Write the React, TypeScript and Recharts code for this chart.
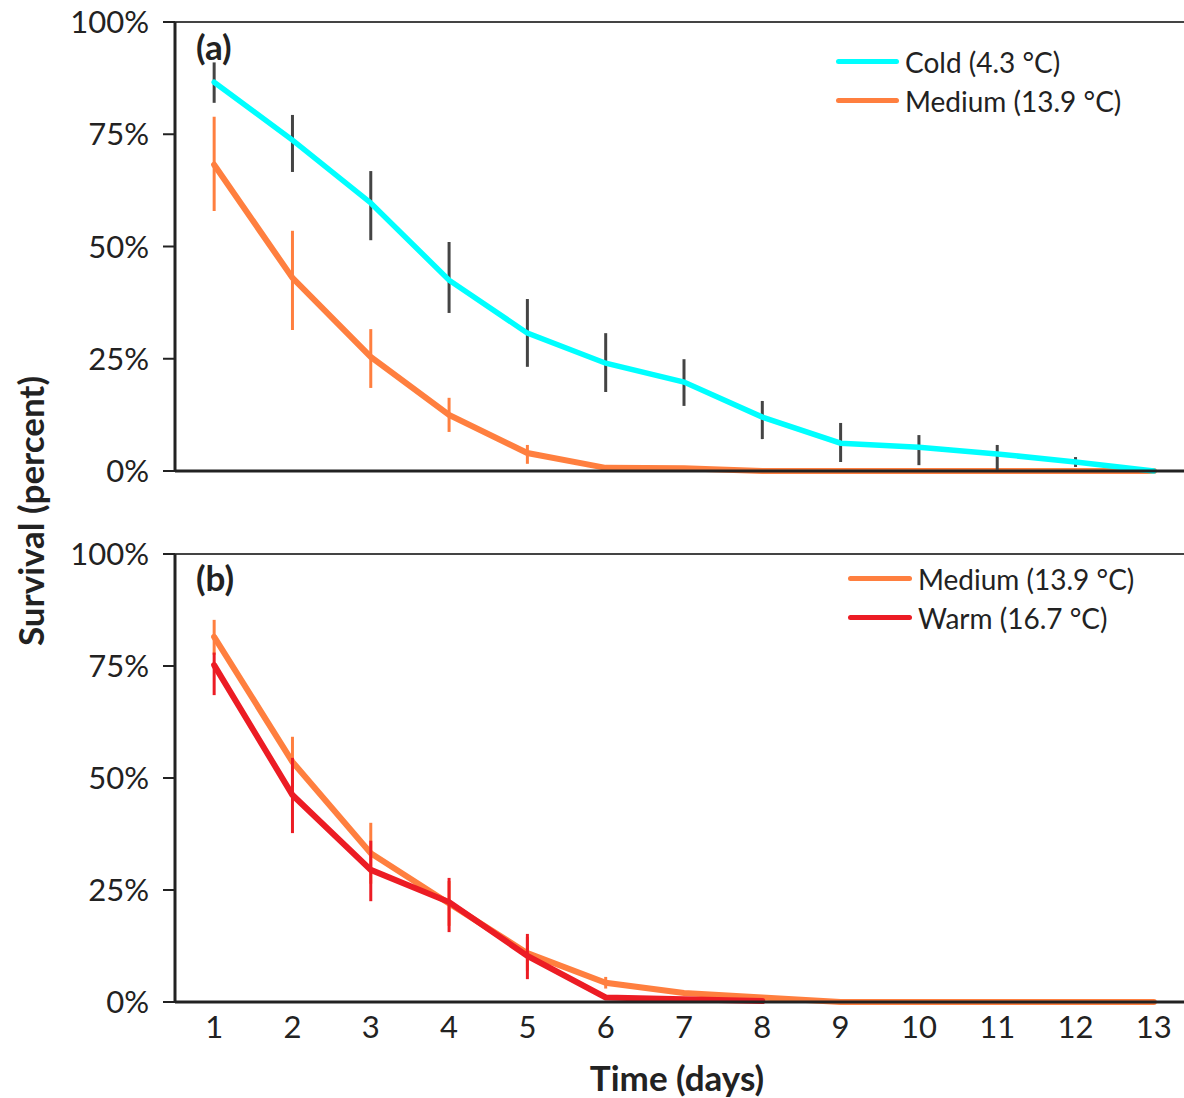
import * as React from 'react';
import { ErrorBar, Legend, Line, LineChart, ReferenceLine, XAxis, YAxis } from 'recharts';

// days on the x axis
const DAYS = [1, 2, 3, 4, 5, 6, 7, 8, 9, 10, 11, 12, 13];
const PCT_TICKS = [0, 25, 50, 75, 100];

// panel (a)
const COLD = [86.6, 73.7, 59.7, 42.5, 30.7, 24.0, 19.8, 12.0, 6.2, 5.3, 3.8, 2.0, 0];
const COLD_LOW = [82.0, 66.6, 51.4, 35.2, 23.2, 17.6, 14.5, 7.1, 2.0, 1.3, 0.3, 0.9, 0];
const COLD_HIGH = [91.0, 79.3, 66.8, 51.0, 38.3, 30.7, 24.9, 15.6, 10.7, 8.0, 5.8, 3.1, 0];

const MEDIUM_A = [68.2, 43.0, 25.4, 12.5, 4.0, 0.7, 0.6, 0, 0, 0, 0, 0, 0];
const MEDIUM_A_LOW = [57.9, 31.4, 18.5, 8.7, 1.6, 0.7, 0.6, 0, 0, 0, 0, 0, 0];
const MEDIUM_A_HIGH = [78.9, 53.5, 31.6, 16.3, 5.8, 0.7, 0.6, 0, 0, 0, 0, 0, 0];

// panel (b)
const MEDIUM_B = [81.5, 53.6, 33.2, 22.0, 10.9, 4.3, 2.0, 1.0, 0, 0, 0, 0, 0];
const MEDIUM_B_LOW = [77.5, 48.0, 26.4, 17.0, 7.0, 3.0, 2.0, 1.0, 0, 0, 0, 0, 0];
const MEDIUM_B_HIGH = [85.3, 59.2, 40.0, 27.0, 14.5, 5.6, 2.0, 1.0, 0, 0, 0, 0, 0];

const WARM = [75.2, 46.2, 29.5, 22.3, 10.3, 1.0, 0.6, 0.2, null, null, null, null, null];
const WARM_LOW = [68.5, 37.7, 22.5, 15.6, 5.1, 1.0, 0.6, 0.2, null, null, null, null, null];
const WARM_HIGH = [78.0, 54.5, 36.0, 27.7, 15.2, 1.0, 0.6, 0.2, null, null, null, null, null];

const CYAN = '#00FFFF';
const ORANGE = '#FF7F3F';
const RED = '#EC1C24';
const INK = '#222';
const FONT = 'Lato, "Open Sans", sans-serif';

const err = (v: number | null, lo: number | null, hi: number | null) =>
  v == null || lo == null || hi == null ? null : [v - lo, hi - v];

const dataA = DAYS.map((d, i) => ({
  day: d,
  cold: COLD[i],
  coldErr: err(COLD[i], COLD_LOW[i], COLD_HIGH[i]),
  medium: MEDIUM_A[i],
  mediumErr: err(MEDIUM_A[i], MEDIUM_A_LOW[i], MEDIUM_A_HIGH[i]),
}));

const dataB = DAYS.map((d, i) => ({
  day: d,
  medium: MEDIUM_B[i],
  mediumErr: err(MEDIUM_B[i], MEDIUM_B_LOW[i], MEDIUM_B_HIGH[i]),
  warm: WARM[i],
  warmErr: err(WARM[i], WARM_LOW[i], WARM_HIGH[i]),
}));

const TICK = { fill: INK, fontSize: 31, fontFamily: FONT };

function LegendBox({ payload, lineW }: any) {
  return (
    <div style={{ fontFamily: FONT, fontSize: 28, color: INK }}>
      {(payload ?? []).map((p: any) => (
        <div key={p.value} style={{ display: 'flex', alignItems: 'center', height: 39 }}>
          <span
            style={{ display: 'inline-block', width: lineW, height: 5, borderRadius: 3, background: p.color, marginRight: 6 }}
          />
          <span style={{ whiteSpace: 'nowrap' }}>{p.value}</span>
        </div>
      ))}
    </div>
  );
}

function yAxisProps() {
  return {
    type: 'number' as const,
    domain: [0, 100],
    ticks: PCT_TICKS,
    tickFormatter: (v: number) => `${v}%`,
    width: 175,
    tick: TICK,
    tickSize: 12,
    tickMargin: 14,
    stroke: INK,
    axisLine: { stroke: INK, strokeWidth: 3 },
    tickLine: { stroke: INK, strokeWidth: 2 },
  };
}

export default function App() {
  return (
    <div
      style={{
        position: 'absolute',
        left: 0,
        top: 0,
        width: 1184,
        height: 1098,
        overflow: 'hidden',
        background: '#fff',
        fontFamily: FONT,
        color: INK,
      }}
    >
      <div style={{ position: 'absolute', left: 0, top: 0 }}>
        <LineChart width={1204} height={500} data={dataA} margin={{ top: 22, right: 11, bottom: 28, left: 0 }}>
          <XAxis
            dataKey="day"
            type="number"
            domain={[0.5, 13.5]}
            ticks={DAYS}
            tick={false}
            tickLine={false}
            height={1}
            axisLine={{ stroke: INK, strokeWidth: 3 }}
          />
          <YAxis {...yAxisProps()} />
          <ReferenceLine y={100} stroke="#444" strokeWidth={2} />
          <Legend
            layout="vertical"
            align="center"
            verticalAlign="middle"
            wrapperStyle={{ left: 836, top: 42, width: 'auto', height: 'auto' }}
            content={(props: any) => <LegendBox {...props} lineW={63} />}
          />
          <Line
            dataKey="medium"
            name="Medium (13.9 °C)"
            stroke={ORANGE}
            strokeWidth={6}
            dot={false}
            strokeLinecap="round"
            isAnimationActive={false}
          >
            <ErrorBar dataKey="mediumErr" direction="y" width={0} stroke={ORANGE} strokeWidth={3} />
          </Line>
          <Line
            dataKey="cold"
            name="Cold (4.3 °C)"
            stroke={CYAN}
            strokeWidth={5.5}
            dot={false}
            strokeLinecap="round"
            isAnimationActive={false}
          >
            <ErrorBar dataKey="coldErr" direction="y" width={0} stroke="#444" strokeWidth={3} />
          </Line>
        </LineChart>
      </div>

      <div style={{ position: 'absolute', left: 0, top: 530 }}>
        <LineChart width={1204} height={568} data={dataB} margin={{ top: 24, right: 11, bottom: 36, left: 0 }}>
          <XAxis
            dataKey="day"
            type="number"
            domain={[0.5, 13.5]}
            ticks={DAYS}
            interval={0}
            tick={TICK}
            tickSize={0}
            tickMargin={14}
            tickLine={false}
            height={60}
            axisLine={{ stroke: INK, strokeWidth: 3 }}
          />
          <YAxis {...yAxisProps()} />
          <ReferenceLine y={100} stroke="#444" strokeWidth={2} />
          <Legend
            layout="vertical"
            align="center"
            verticalAlign="middle"
            wrapperStyle={{ left: 848, top: 29, width: 'auto', height: 'auto' }}
            content={(props: any) => <LegendBox {...props} lineW={64} />}
          />
          <Line
            dataKey="medium"
            name="Medium (13.9 °C)"
            stroke={ORANGE}
            strokeWidth={6}
            dot={false}
            strokeLinecap="round"
            isAnimationActive={false}
          >
            <ErrorBar dataKey="mediumErr" direction="y" width={0} stroke={ORANGE} strokeWidth={3} />
          </Line>
          <Line
            dataKey="warm"
            name="Warm (16.7 °C)"
            stroke={RED}
            strokeWidth={6}
            dot={false}
            strokeLinecap="round"
            isAnimationActive={false}
          >
            <ErrorBar dataKey="warmErr" direction="y" width={0} stroke={RED} strokeWidth={3} />
          </Line>
        </LineChart>
      </div>

      <div style={{ position: 'absolute', left: 196, top: 29, fontSize: 35, fontWeight: 700, lineHeight: 1 }}>(a)</div>
      <div style={{ position: 'absolute', left: 196, top: 560, fontSize: 35, fontWeight: 700, lineHeight: 1 }}>(b)</div>

      <div
        style={{
          position: 'absolute',
          left: 30,
          top: 511,
          transform: 'translate(-50%, -50%) rotate(-90deg)',
          whiteSpace: 'nowrap',
          fontSize: 35,
          fontWeight: 700,
        }}
      >
        Survival (percent)
      </div>
      <div
        style={{
          position: 'absolute',
          left: 677,
          top: 1077,
          transform: 'translate(-50%, -50%)',
          whiteSpace: 'nowrap',
          fontSize: 35,
          fontWeight: 700,
        }}
      >
        Time (days)
      </div>
    </div>
  );
}
